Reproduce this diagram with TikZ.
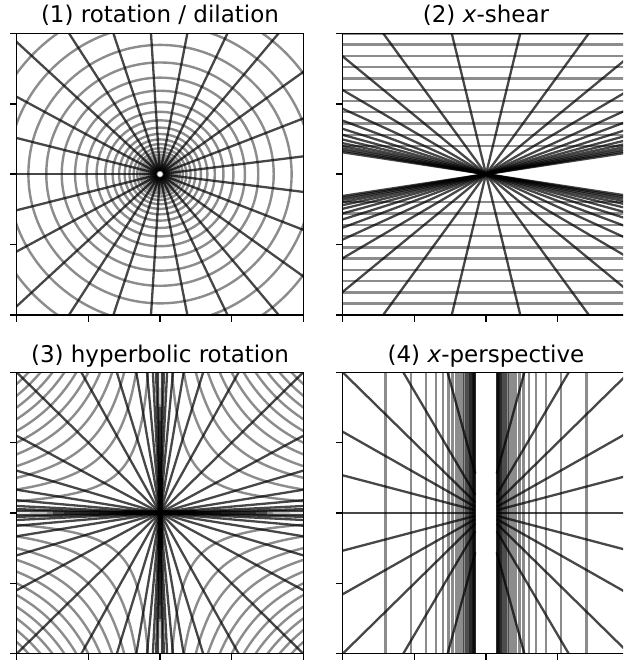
\documentclass[tikz,border=0pt]{standalone}
\usepackage{fontspec}
\setmainfont{DejaVu Sans}[ItalicFont={DejaVu Sans Oblique}]
\begin{document}
\begin{tikzpicture}[x=1pt,y=1pt,
  gline/.style={draw=black, opacity=0.45, line width=2.4pt},
  dline/.style={draw=black, opacity=0.72, line width=2.3pt},
  frame/.style={draw=black, line width=1.5pt},
  tickmark/.style={draw=black, line width=1.5pt},
  ttl/.style={anchor=base, font=\fontsize{23}{27}\selectfont, inner sep=0pt},
  panel/.style={x=71.65pt, y=70.35pt}]
\clip (0,0) rectangle (623,660);

% ---------- titles
\node[ttl] (t1) at (160,637.5) {(1) rotation / dilation};
\node[ttl] (t2) at (486,637.5) {(2) \textit{x}-shear};
\node[ttl] (t3) at (160,297) {(3) hyperbolic rotation};
\node[ttl] (t4) at (486,297) {(4) \textit{x}-perspective};

% ---------- panel 1: rotation / dilation
\begin{scope}[shift={(160,485.85)}, panel]
  \begin{scope}
    \clip (-2,-2) rectangle (2,2);
    \foreach \j in {-3,...,24} {
      \draw[gline] (0,0) circle[radius={exp(0.608-0.146*\j)}];
    }
    \foreach \k in {0,...,24} {
      \draw[dline] ({7.2+14.4*\k}:0.05) -- ({7.2+14.4*\k}:3);
    }
  \end{scope}
  \draw[frame] (-2,-2) rectangle (2,2);
  \foreach \v in {-2,...,2} {
    \draw[tickmark] (\v,-2) -- ++(0pt,-6.7pt);
    \draw[tickmark] (-2,\v) -- ++(-6.7pt,0pt);
  }
\end{scope}

% ---------- panel 2: x-shear
\begin{scope}[shift={(486,485.85)}, panel]
  \begin{scope}
    \clip (-2,-2) rectangle (2,2);
    \foreach \k in {0,...,10} {
      \pgfmathsetmacro{\yy}{0.4+0.16*\k}
      \draw[gline] (-2.2,\yy) -- (2.2,\yy);
      \draw[gline] (-2.2,-\yy) -- (2.2,-\yy);
    }
    \foreach \k in {0,...,13} {
      \pgfmathsetmacro{\sh}{0.239*(2*\k+1)}
      \draw[dline] ({-2.2*\sh},-2.2) -- ({2.2*\sh},2.2);
      \draw[dline] ({2.2*\sh},-2.2) -- ({-2.2*\sh},2.2);
    }
  \end{scope}
  \draw[frame] (-2,-2) rectangle (2,2);
  \foreach \v in {-2,...,2} {
    \draw[tickmark] (\v,-2) -- ++(0pt,-6.7pt);
    \draw[tickmark] (-2,\v) -- ++(-6.7pt,0pt);
  }
\end{scope}

% ---------- panel 3: hyperbolic rotation
\begin{scope}[shift={(160,147)}, panel]
  \begin{scope}
    \clip (-2,-2) rectangle (2,2);
    \foreach \k in {1,...,11} {
      \pgfmathsetmacro{\aa}{sqrt(\k/3)}
      \pgfmathsetmacro{\uu}{ln(2.25/\aa)}
      \foreach \sx/\sy in {1/1,-1/1,1/-1,-1/-1} {
        \draw[gline] plot[domain=-\uu:\uu, samples=50, smooth]
          ({\sx*\aa*exp(\x)},{\sy*\aa*exp(-\x)});
      }
    }
    \foreach \k in {-7,...,7} {
      \pgfmathsetmacro{\ang}{atan(exp(0.6*\k))}
      \draw[dline] ({\ang+180}:3) -- (\ang:3);
      \draw[dline] ({180-\ang}:3) -- ({-\ang}:3);
    }
    \draw[gline, line width=3.6pt] (-1.5,0) -- (1.5,0);
    \draw[gline, line width=3.6pt] (0,-1.5) -- (0,1.5);
    \draw[dline, line width=5pt] (-0.5,0) -- (0.5,0);
    \draw[dline, line width=5pt] (0,-0.5) -- (0,0.5);
  \end{scope}
  \draw[frame] (-2,-2) rectangle (2,2);
  \foreach \v in {-2,...,2} {
    \draw[tickmark] (\v,-2) -- ++(0pt,-6.7pt);
    \draw[tickmark] (-2,\v) -- ++(-6.7pt,0pt);
  }
\end{scope}

% ---------- panel 4: x-perspective
\begin{scope}[shift={(486,147)}, panel]
  \begin{scope}
    \clip (-2,-2) rectangle (2,2);
    \foreach \k in {3,...,28} {
      \pgfmathsetmacro{\xx}{1/(0.238*\k)}
      \draw[gline] (\xx,-2.2) -- (\xx,2.2);
      \draw[gline] (-\xx,-2.2) -- (-\xx,2.2);
    }
    \foreach \j in {-5,...,5} {
      \pgfmathsetmacro{\mm}{tan(15*\j)}
      \draw[dline] (0.15,{0.15*\mm}) -- (2.2,{2.2*\mm});
      \draw[dline] (-0.15,{-0.15*\mm}) -- (-2.2,{-2.2*\mm});
    }
  \end{scope}
  \draw[frame] (-2,-2) rectangle (2,2);
  \foreach \v in {-2,...,2} {
    \draw[tickmark] (\v,-2) -- ++(0pt,-6.7pt);
    \draw[tickmark] (-2,\v) -- ++(-6.7pt,0pt);
  }
\end{scope}
\end{tikzpicture}
\end{document}
